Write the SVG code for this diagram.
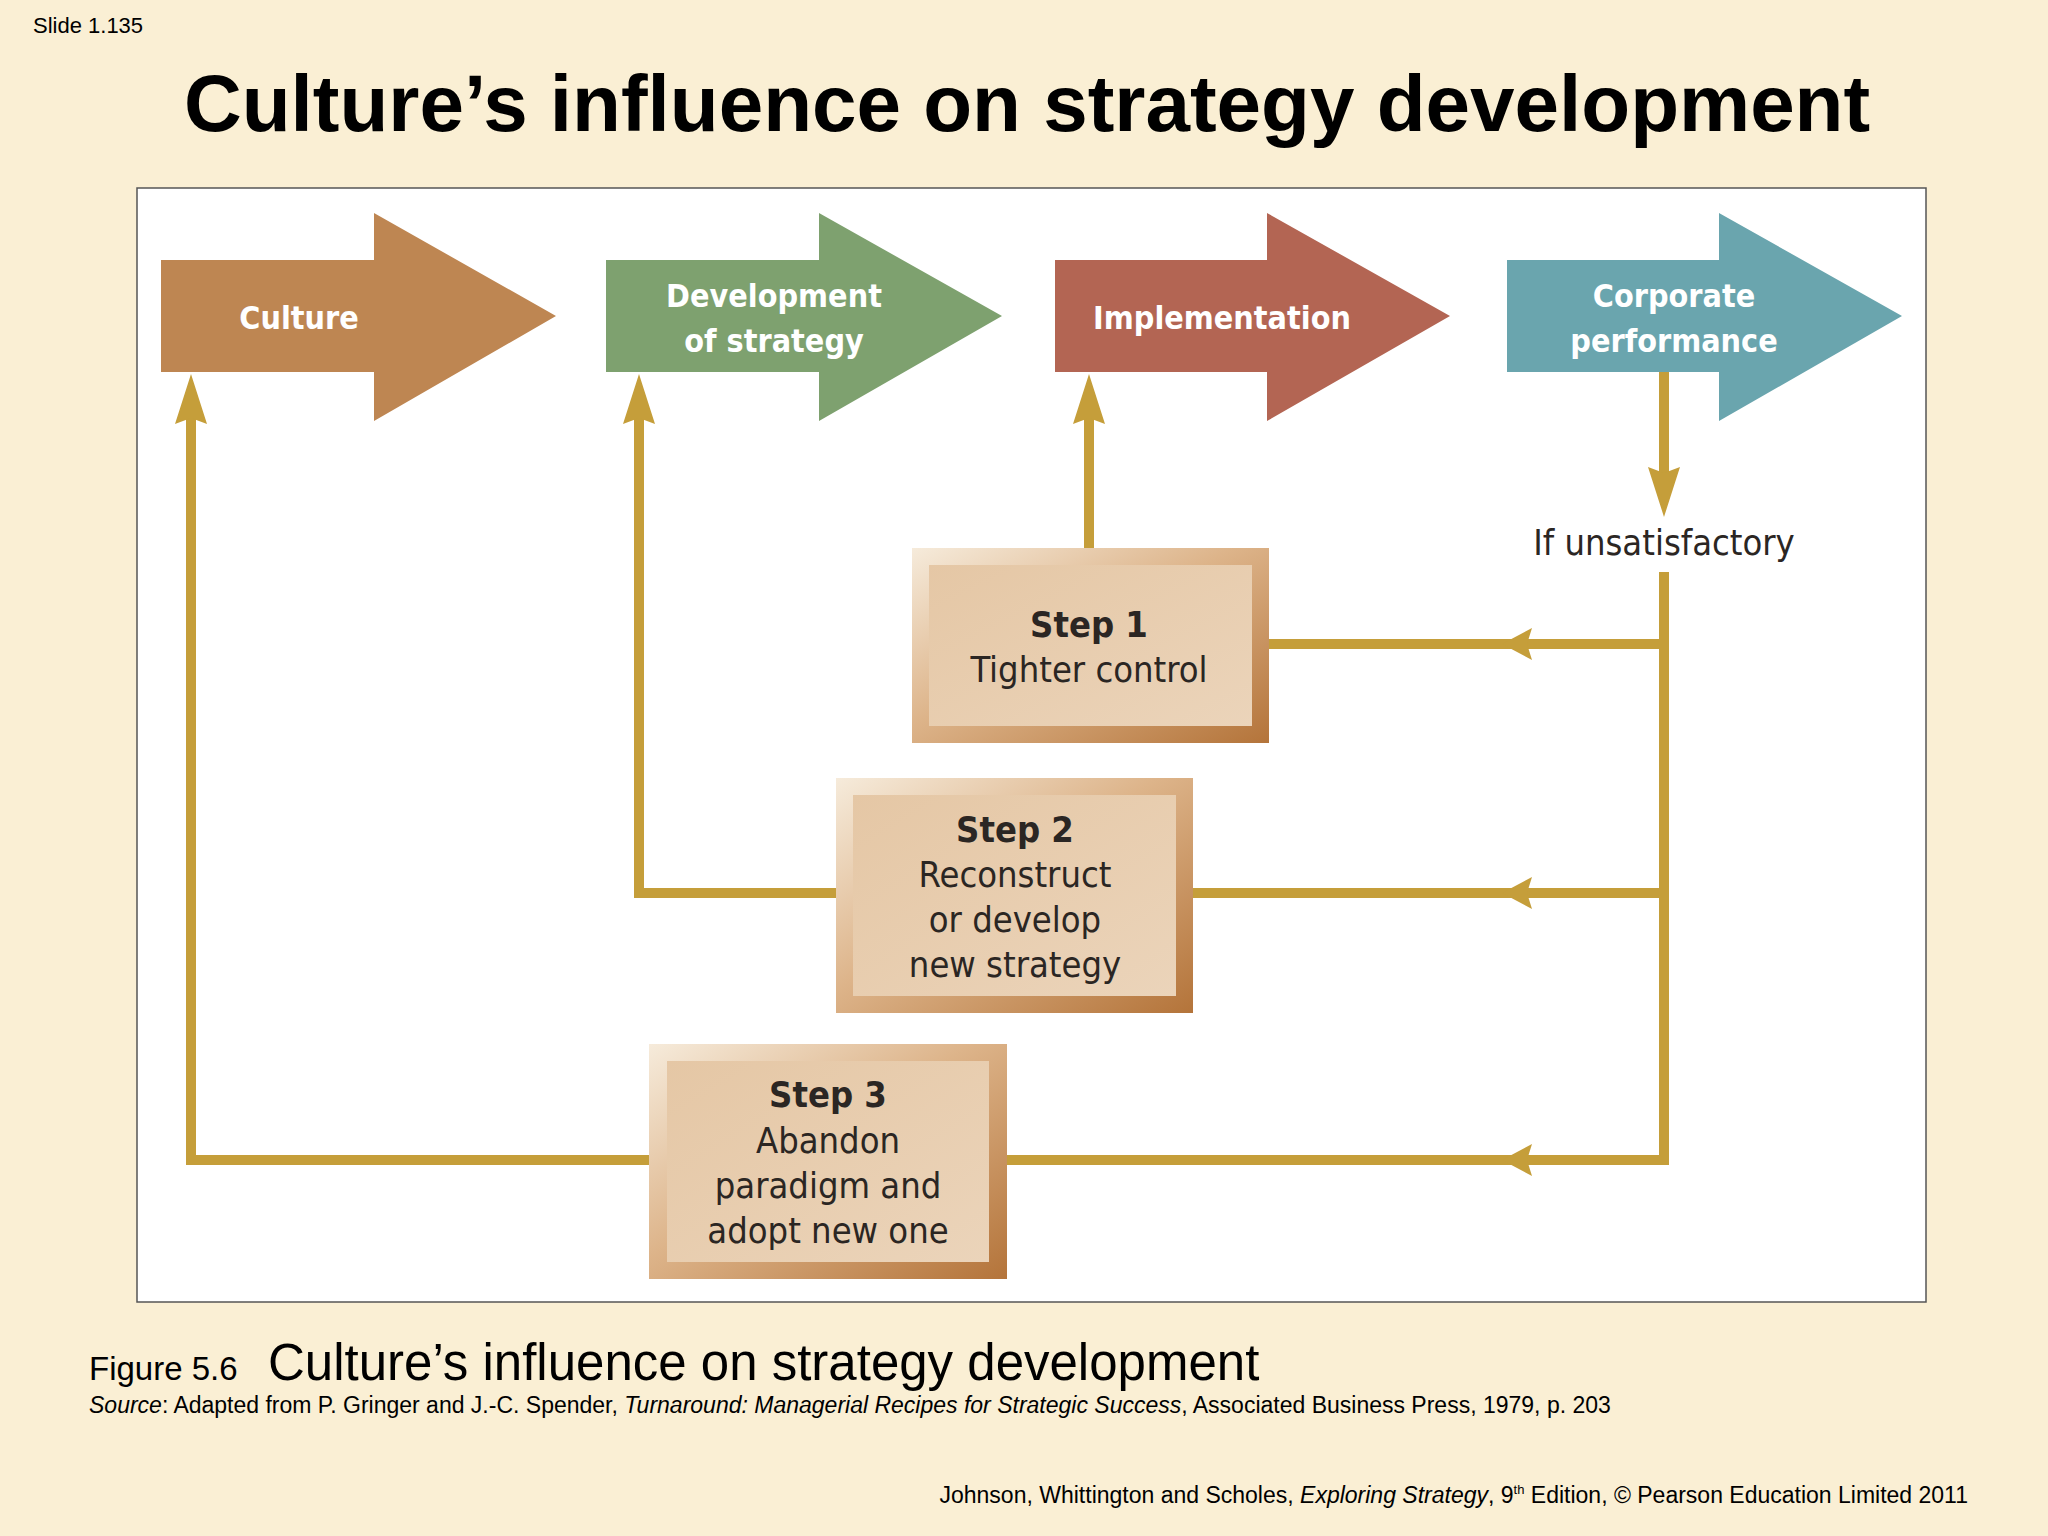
<svg xmlns="http://www.w3.org/2000/svg" width="2048" height="1536" viewBox="0 0 2048 1536">
<defs>
<style>
.din{font-family:'DejaVu Sans Condensed','DejaVu Sans',sans-serif;font-stretch:condensed}
.big{font-size:32px;fill:#ffffff;font-weight:bold;text-anchor:middle}
.step{font-size:36px;fill:#2b2623;text-anchor:middle}
.stepb{font-weight:bold}
.conn{stroke:#C59E3A;stroke-width:10;fill:none}
.ah{fill:#C59E3A}
.lib{font-family:'Liberation Sans',Arial,sans-serif;fill:#000}
</style>
<linearGradient id="frame" x1="0" y1="0" x2="1" y2="1">
<stop offset="0" stop-color="#F6EBDB"/>
<stop offset="0.45" stop-color="#DDB48A"/>
<stop offset="1" stop-color="#B4743A"/>
</linearGradient>
<linearGradient id="inner" x1="0" y1="0" x2="1" y2="1">
<stop offset="0" stop-color="#E5C7A5"/>
<stop offset="1" stop-color="#EBD4BA"/>
</linearGradient>
<path id="ah" d="M0,0 L16,50 L0,44 L-16,50 Z"/>
<path id="ahs" d="M0,0 L16,30 L0,25 L-16,30 Z"/>
</defs>
<rect width="2048" height="1536" fill="#FAEFD4"/>
<text class="lib" x="33" y="33" font-size="22">Slide 1.135</text>
<text class="lib" x="1027" y="131" font-size="80" font-weight="bold" text-anchor="middle">Culture’s influence on strategy development</text>
<rect x="137" y="188" width="1789" height="1114" fill="#ffffff" stroke="#555555" stroke-width="1.5"/>

<g id="culture">
<polygon points="161,260 374,260 374,213 556,316 374,421 374,372 161,372" fill="#BE8652"/>
<text class="din big" x="299" y="329">Culture</text>
</g>
<g id="development">
<polygon points="606,260 819,260 819,213 1002,316 819,421 819,372 606,372" fill="#7EA16F"/>
<text class="din big" x="774" y="307">Development</text>
<text class="din big" x="774" y="352">of strategy</text>
</g>
<g id="implementation">
<polygon points="1055,260 1267,260 1267,213 1450,316 1267,421 1267,372 1055,372" fill="#B36553"/>
<text class="din big" x="1222" y="329">Implementation</text>
</g>
<g id="performance">
<polygon points="1507,260 1719,260 1719,213 1902,316 1719,421 1719,372 1507,372" fill="#6AA5AE"/>
<text class="din big" x="1674" y="307">Corporate</text>
<text class="din big" x="1674" y="352">performance</text>
</g>

<g id="connectors">
<path class="conn" d="M1664,372 V475"/>
<use href="#ah" class="ah" transform="translate(1664,517) rotate(180)"/>
<path class="conn" d="M1664,572 V1160 H1006"/>
<path class="conn" d="M1664,644 H1268"/>
<path class="conn" d="M1664,893 H1192"/>
<use href="#ahs" class="ah" transform="translate(1502,644) rotate(-90)"/>
<use href="#ahs" class="ah" transform="translate(1502,893) rotate(-90)"/>
<use href="#ahs" class="ah" transform="translate(1502,1160) rotate(-90)"/>
<path class="conn" d="M1089,548 V415"/>
<use href="#ah" class="ah" transform="translate(1089,374)"/>
<path class="conn" d="M836,893 H639 V415"/>
<use href="#ah" class="ah" transform="translate(639,374)"/>
<path class="conn" d="M650,1160 H191 V415"/>
<use href="#ah" class="ah" transform="translate(191,374)"/>
</g>

<g id="unsatisfactory">
<text class="din" x="1664" y="555" font-size="36" fill="#2b2623" text-anchor="middle">If unsatisfactory</text>
</g>

<g id="step1">
<rect x="912" y="548" width="357" height="195" fill="url(#frame)"/>
<rect x="929" y="565" width="323" height="161" fill="url(#inner)"/>
<text class="din step stepb" x="1089" y="637">Step 1</text>
<text class="din step" x="1089" y="682">Tighter control</text>
</g>
<g id="step2">
<rect x="836" y="778" width="357" height="235" fill="url(#frame)"/>
<rect x="853" y="795" width="323" height="201" fill="url(#inner)"/>
<text class="din step stepb" x="1015" y="842">Step 2</text>
<text class="din step" x="1015" y="887">Reconstruct</text>
<text class="din step" x="1015" y="932">or develop</text>
<text class="din step" x="1015" y="977">new strategy</text>
</g>
<g id="step3">
<rect x="649" y="1044" width="358" height="235" fill="url(#frame)"/>
<rect x="667" y="1061" width="322" height="201" fill="url(#inner)"/>
<text class="din step stepb" x="828" y="1107">Step 3</text>
<text class="din step" x="828" y="1153">Abandon</text>
<text class="din step" x="828" y="1198">paradigm and</text>
<text class="din step" x="828" y="1243">adopt new one</text>
</g>

<text class="lib" x="89" y="1380"><tspan font-size="33">Figure 5.6</tspan><tspan x="268" font-size="51">Culture’s influence on strategy development</tspan></text>
<text class="lib" x="89" y="1413" font-size="23"><tspan font-style="italic">Source</tspan>: Adapted from P. Gringer and J.-C. Spender, <tspan font-style="italic">Turnaround: Managerial Recipes for Strategic Success</tspan>, Associated Business Press, 1979, p. 203</text>
<text class="lib" x="1968" y="1503" font-size="23" text-anchor="end">Johnson, Whittington and Scholes, <tspan font-style="italic">Exploring Strategy</tspan>, 9<tspan font-size="13" dy="-9">th</tspan><tspan dy="9"> Edition, © Pearson Education Limited 2011</tspan></text>
</svg>
